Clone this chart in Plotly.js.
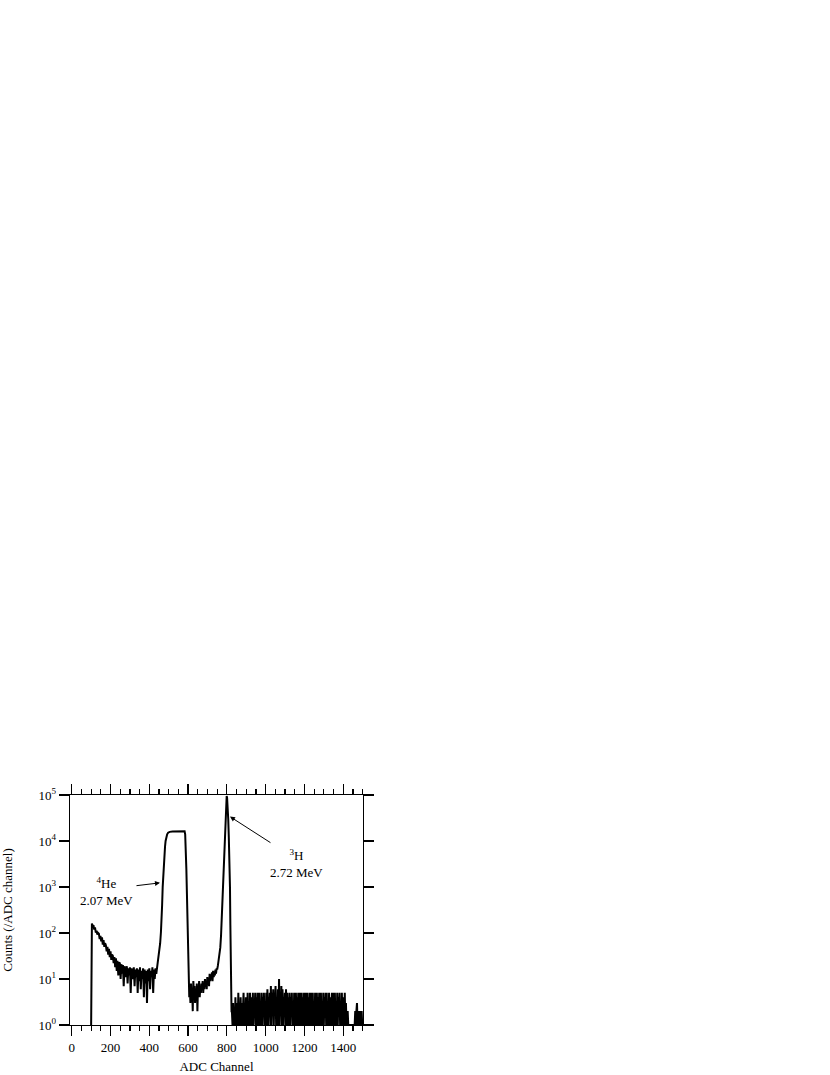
<!DOCTYPE html>
<html>
<head>
<meta charset="utf-8">
<script src="https://cdn.plot.ly/plotly-3.0.1.min.js"></script>
<style>body{margin:0;background:#fff;}#plot{width:830px;height:1075px;}</style>
</head>
<body>
<div id="plot"></div>
<script>
// ---- data ----
// onset of the spectrum
const onsetCh = [100];
const onsetCounts = [1];

// low-energy tail: channels 104..440, every 4 channels
const lowStart = 104, lowStep = 4;
const lowCounts = [160,142,148,118,132,102,112,92,100,
  96,74,86,66,80,56,70,50,60,
  54,40,50,34,45,30,40,26,34,
  32,22,30,18,28,15,25,12,23,
  22,10,21,13,20,7,19,11,18,
  19,8,17,12,18,5,17,10,16,
  18,7,16,11,17,5,16,9,18,
  6,15,10,17,4,16,8,15,3,
  16,9,17,6,15,11,18,5,16,
  10,17,13,18];

// 4He peak (2.07 MeV)
const heCh = [444,448,452,456,460,464,466,469,472,475,478,481,484,488,492,497,505,520,540,560,575,582,585,588,591,594,597,600,603];
const heCounts = [20,27,38,60,105,200,400,1000,2000,3500,5500,7500,10000,12500,14000,15200,15800,16000,16200,16300,16500,16300,14000,7000,2500,700,150,30,5];

// valley between peaks: channels 606..750, every 3 channels
const valleyStart = 606, valleyStep = 3;
const valleyCounts = [4,6,3,8,4,6,2,9,5,7,
  3,6,4,8,2,7,5,9,4,7,
  5,8,6,9,5,8,6,10,7,9,
  6,11,8,10,7,13,9,12,10,14,
  9,15,11,13,12,16,13,17,16];

// 3H peak (2.72 MeV)
const h3Ch = [754,758,762,766,770,773,776,779,782,785,788,791,794,797,799,801,804,807,810,813,816,818,820,822,824];
const h3Counts = [20,26,34,48,90,200,500,1100,2700,6000,13000,28000,50000,80000,95000,88000,60000,30000,12000,4000,1000,150,12,3,2];

// high-channel background: channels 826..1498, every 3 channels
const tailStart = 826, tailStep = 3;
const tailCounts = [2,1,3,1,2,1,4,1,2,3,1,5,1,2,1,4,1,3,1,
  2,5,1,3,1,4,2,1,5,1,3,1,5,2,1,4,1,5,1,3,2,5,1,4,1,5,1,2,5,1,3,1,5,1,4,2,5,1,3,1,
  5,1,6,1,4,2,5,1,7,1,5,2,6,1,5,3,7,1,4,1,6,1,10,1,5,2,7,1,6,1,4,2,5,1,6,1,5,1,4,1,
  5,1,4,2,5,1,3,1,5,2,1,5,1,4,1,5,3,1,5,1,
  2,5,1,4,1,5,2,1,5,1,3,5,1,4,1,5,1,2,5,1,
  5,1,3,1,5,2,1,5,1,4,1,5,2,1,5,1,3,1,5,1,
  4,2,5,1,5,1,3,1,5,2,1,4,1,5,1,5,2,1,5,1,
  3,1,5,1,4,2,5,1,3,1,5,1,2,4,1,5,1,3,1,2,
  2,1,1,1,1,1,1,1,1,1,1,1,1,
  2,1,2,3,1,2,1,2,1,2,1,2,1];

// axis ticks
const xTickVals = [0,200,400,600,800,1000,1200,1400];
const yTickVals = [1,10,100,1000,10000,100000];
const yTickText = ['10<sup>0</sup>','10<sup>1</sup>','10<sup>2</sup>','10<sup>3</sup>','10<sup>4</sup>','10<sup>5</sup>'];

// ---- assemble ----
function seq(start, step, n){ const a=[]; for(let i=0;i<n;i++) a.push(start+i*step); return a; }
const x = [].concat(onsetCh, seq(lowStart,lowStep,lowCounts.length), heCh,
  seq(valleyStart,valleyStep,valleyCounts.length), h3Ch, seq(tailStart,tailStep,tailCounts.length));
const y = [].concat(onsetCounts, lowCounts, heCounts, valleyCounts, h3Counts, tailCounts);

const FONT = 'Liberation Serif, Times New Roman, serif';
const trace = {x:x, y:y, type:'scatter', mode:'lines', line:{color:'#000', width:2}, hoverinfo:'skip'};

const layout = {
  width:830, height:1075,
  margin:{l:70, r:467, t:795, b:50},
  paper_bgcolor:'#fff', plot_bgcolor:'#fff',
  showlegend:false,
  font:{family:FONT, size:13, color:'#000'},
  xaxis:{
    range:[-9,1502], tickvals:xTickVals, ticks:'outside', ticklen:10, tickwidth:1.2, tickcolor:'#000',
    showline:true, linecolor:'#000', linewidth:1.3, mirror:'ticks',
    minor:{dtick:50, tick0:0, ticks:'outside', ticklen:4.5, tickwidth:1.2, tickcolor:'#000', showgrid:false},
    showgrid:false, zeroline:false,
    tickfont:{family:FONT, size:13, color:'#000'},
    title:{text:'ADC Channel', font:{family:FONT, size:13, color:'#000'}, standoff:8}
  },
  yaxis:{
    type:'log', range:[0,5], tickvals:yTickVals, ticktext:yTickText,
    ticks:'outside', ticklen:10, tickwidth:1.2, tickcolor:'#000',
    showline:true, linecolor:'#000', linewidth:1.3, mirror:'ticks',
    showgrid:false, zeroline:false,
    tickfont:{family:FONT, size:13, color:'#000'},
    title:{text:'Counts (/ADC channel)', font:{family:FONT, size:13, color:'#000'}, standoff:24}
  },
  annotations:[
    {xref:'x', yref:'y', x:180, y:2.91, text:'<sup>4</sup>He<br>2.07 MeV', showarrow:false,
     font:{family:FONT, size:13, color:'#000'}, align:'center'},
    {xref:'x', yref:'y', x:455, y:3.09, text:'', showarrow:true, ax:-25, ay:3,
     arrowhead:2, arrowsize:1, arrowwidth:1, arrowcolor:'#000'},
    {xref:'x', yref:'y', x:1160, y:3.52, text:'<sup>3</sup>H<br>2.72 MeV', showarrow:false,
     font:{family:FONT, size:13, color:'#000'}, align:'center'},
    {xref:'x', yref:'y', x:816, y:4.53, text:'', showarrow:true, ax:42, ay:27,
     arrowhead:2, arrowsize:1, arrowwidth:1, arrowcolor:'#000'}
  ]
};

Plotly.newPlot('plot', [trace], layout, {staticPlot:true, displayModeBar:false});
</script>
</body>
</html>
